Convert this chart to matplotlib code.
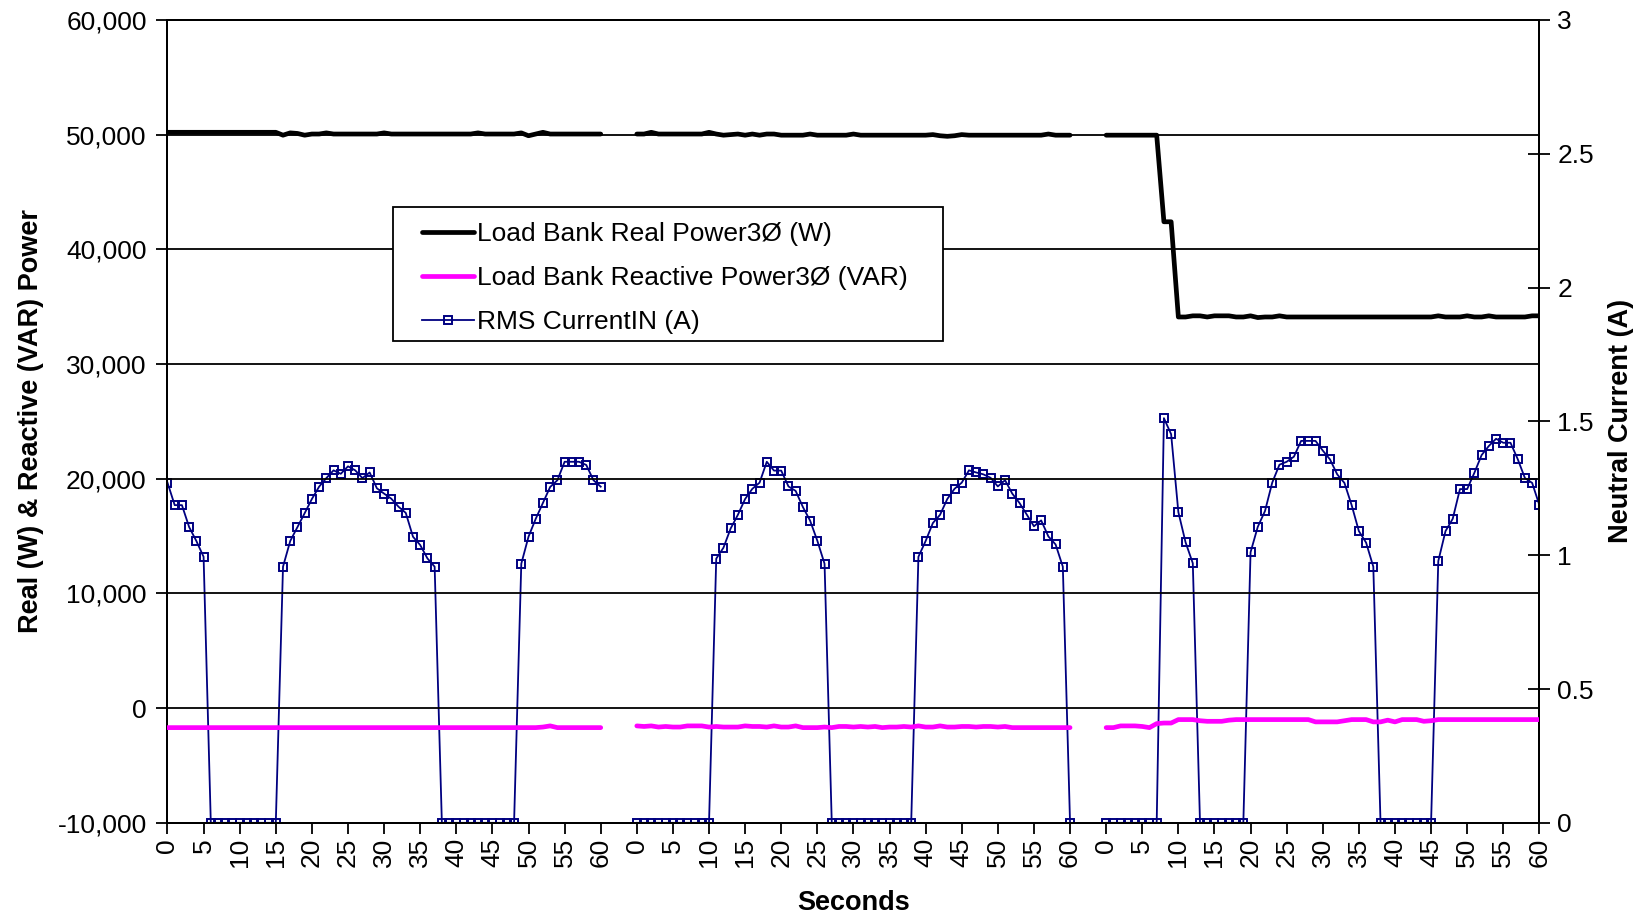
import numpy as np
import matplotlib
matplotlib.use("Agg")
import matplotlib.pyplot as plt
from matplotlib.patches import Rectangle

plt.rcParams['font.family'] = ['Liberation Sans', 'DejaVu Sans']

# ---------------- data ----------------
seconds = list(range(0, 61))
tick_labels = [str(s) for s in range(0, 61, 5)]

# Load Bank Real Power 3-phase (W), three 60-second runs
real_power_1 = [50200] * 16 + [49950, 50150, 50100, 49950, 50050, 50050, 50150, 50050, 50050, 50050,
                               50050, 50050, 50050, 50050, 50150, 50050, 50050, 50050, 50050, 50050,
                               50050, 50050, 50050, 50050, 50050, 50050, 50050, 50150, 50050, 50050,
                               50050, 50050, 50050, 50150, 49900, 50050, 50200, 50050, 50050, 50050,
                               50050, 50050, 50050, 50050, 50050]
real_power_2 = [50050, 50050, 50200, 50050, 50050, 50050, 50050, 50050, 50050, 50050,
                50200, 50050, 49950, 50000, 50050, 49950, 50050, 49950, 50050, 50050,
                49950, 49950, 49950, 49950, 50050, 49950, 49950, 49950, 49950, 49950,
                50050, 49950, 49950, 49950, 49950, 49950, 49950, 49950, 49950, 49950,
                49950, 50000, 49900, 49850, 49900, 50000, 49950, 49950, 49950, 49950,
                49950, 49950, 49950, 49950, 49950, 49950, 49950, 50050, 49950, 49950,
                49950]
real_power_3 = [49950, 49950, 49950, 49950, 49950, 49950, 49950, 49950, 42400, 42400,
                34100, 34100, 34200, 34200, 34100, 34200, 34200, 34200, 34100, 34100,
                34200, 34050, 34100, 34100, 34200, 34100, 34100, 34100, 34100, 34100,
                34100, 34100, 34100, 34100, 34100, 34100, 34100, 34100, 34100, 34100,
                34100, 34100, 34100, 34100, 34100, 34100, 34200, 34100, 34100, 34100,
                34200, 34100, 34100, 34200, 34100, 34100, 34100, 34100, 34100, 34200,
                34200]

# Load Bank Reactive Power 3-phase (VAR)
reactive_power_1 = [-1700] * 52 + [-1650, -1550, -1700, -1700, -1700, -1700, -1700, -1700, -1700]
reactive_power_2 = [-1550, -1600, -1550, -1650, -1600, -1650, -1650, -1550, -1550, -1550,
                    -1650, -1600, -1650, -1650, -1650, -1550, -1600, -1600, -1650, -1550,
                    -1650, -1650, -1550, -1700, -1700, -1700, -1650, -1700, -1600, -1600,
                    -1650, -1600, -1650, -1600, -1700, -1650, -1650, -1600, -1650, -1550,
                    -1650, -1650, -1550, -1650, -1650, -1600, -1600, -1650, -1600, -1600,
                    -1650, -1600, -1700, -1700, -1700, -1700, -1700, -1700, -1700, -1700,
                    -1700]
reactive_power_3 = [-1700, -1700, -1550, -1550, -1550, -1600, -1700, -1350, -1300, -1300,
                    -1000, -1000, -1000, -1100, -1150, -1150, -1150, -1050, -1000, -1000,
                    -1000, -1000, -1000, -1000, -1000, -1000, -1000, -1000, -1000, -1200,
                    -1200, -1200, -1200, -1100, -1000, -1000, -1000, -1200, -1200, -1050,
                    -1200, -1000, -1000, -1000, -1150, -1100, -1000, -1000, -1000, -1000,
                    -1000, -1000, -1000, -1000, -1000, -1000, -1000, -1000, -1000, -1000,
                    -1000]

# RMS Neutral Current IN (A)
current_1 = [1.271, 1.187, 1.187, 1.105, 1.053, 0.994] + [0] * 10 + \
            [0.957, 1.053, 1.105, 1.157, 1.210, 1.256, 1.288, 1.317, 1.304, 1.332,
             1.317, 1.288, 1.309, 1.250, 1.230, 1.211, 1.181, 1.158, 1.069, 1.038,
             0.988, 0.957] + [0] * 11 + \
            [0.968, 1.069, 1.136, 1.196, 1.255, 1.280, 1.349, 1.349, 1.349, 1.337,
             1.280, 1.256]
current_2 = [0] * 11 + \
            [0.987, 1.028, 1.100, 1.151, 1.210, 1.248, 1.271, 1.349, 1.316, 1.316,
             1.257, 1.240, 1.180, 1.129, 1.054, 0.968] + [0] * 12 + \
            [0.994, 1.053, 1.120, 1.151, 1.210, 1.248, 1.271, 1.317, 1.309, 1.302,
             1.289, 1.257, 1.280, 1.230, 1.195, 1.152, 1.108, 1.130, 1.070, 1.040,
             0.957] + [0]
current_3 = [0] * 8 + [1.512, 1.452, 1.161, 1.048, 0.970] + [0] * 7 + \
            [1.011, 1.106, 1.165, 1.271, 1.338, 1.349, 1.368, 1.427, 1.427, 1.427,
             1.391, 1.358, 1.302, 1.270, 1.187, 1.090, 1.047, 0.957] + [0] * 8 + \
            [0.978, 1.090, 1.136, 1.247, 1.247, 1.308, 1.374, 1.408, 1.435, 1.420,
             1.420, 1.359, 1.288, 1.270, 1.187]

# ---------------- layout ----------------
GAP = 5  # empty categories between runs
sec = np.array(seconds, dtype=float)
offsets = [0, 60 + GAP, 2 * (60 + GAP)]


def join(*segs):
    xs, ys = [], []
    for i, (off, s) in enumerate(zip(offsets, segs)):
        if i:
            xs.append([np.nan]); ys.append([np.nan])
        xs.append(sec + off); ys.append(np.asarray(s, dtype=float))
    return np.concatenate(xs), np.concatenate(ys)


W, H = 1642, 917
fig = plt.figure(figsize=(W / 100, H / 100), dpi=100)
ax = fig.add_axes([0.102, 0.1027, 0.8355, 0.8756])
ax2 = ax.twinx()

FS = 19

xr, yr = join(real_power_1, real_power_2, real_power_3)
xq, yq = join(reactive_power_1, reactive_power_2, reactive_power_3)
xc, yc = join(current_1, current_2, current_3)

l1, = ax.plot(xr, yr, color='black', lw=3.4, solid_joinstyle='round',
              solid_capstyle='round', label='Load Bank Real Power3Ø (W)', zorder=4)
l2, = ax.plot(xq, yq, color='#FF00FF', lw=3.4, solid_joinstyle='round',
              solid_capstyle='round', label='Load Bank Reactive Power3Ø (VAR)', zorder=4)
l3, = ax2.plot(xc, yc, color='#000080', lw=1.3, marker='s', ms=6.4, mfc='none',
               mec='#000080', mew=1.4, label='RMS CurrentIN (A)', zorder=5)

ax.set_zorder(ax2.get_zorder() + 1)
ax.patch.set_visible(False)

ax.set_ylim(-10000, 60000)
ax.set_yticks(np.arange(-10000, 60001, 10000))
ax.set_yticklabels([f"{v:,}" for v in range(-10000, 60001, 10000)], fontsize=FS)
ax.yaxis.grid(True, color='black', lw=1.3)
ax.set_axisbelow(True)

ax2.set_ylim(0, 3)
ax2.set_yticks(np.arange(0, 3.01, 0.5))
ax2.set_yticklabels(['0', '0.5', '1', '1.5', '2', '2.5', '3'], fontsize=FS)

xticks = [off + s for off in offsets for s in range(0, 61, 5)]
ax.set_xlim(0, offsets[-1] + 60)
ax.set_xticks(xticks)
ax.set_xticklabels(tick_labels * 3, rotation=90, fontsize=FS)

for a in (ax, ax2):
    for sp in a.spines.values():
        sp.set_color('black')
        sp.set_linewidth(1.4)

ax.tick_params(axis='y', direction='out', length=8, width=1.3, pad=7)
ax.tick_params(axis='x', direction='out', length=8, width=1.3, pad=3)
ax2.tick_params(axis='y', direction='inout', length=16, width=1.3, pad=5)

ax.set_xlabel('Seconds', fontsize=FS + 0.5, fontweight='bold', labelpad=16)
ax.set_ylabel('Real (W) & Reactive (VAR) Power', fontsize=FS + 0.5, fontweight='bold', labelpad=10)
ax2.set_ylabel('Neutral Current (A)', fontsize=FS + 0.5, fontweight='bold', labelpad=10)

# legend frame drawn as its own box (figure pixel coords), legend entries inside
box_l, box_t, box_r, box_b = 392.7, 207.0, 942.5, 341.3
frame = Rectangle((box_l / W, 1 - box_b / H), (box_r - box_l) / W, (box_b - box_t) / H,
                  transform=fig.transFigure, facecolor='white', edgecolor='black',
                  linewidth=1.3, zorder=10)
fig.patches.append(frame)

leg = fig.legend(handles=[l1, l2, l3], loc='upper left',
                 bbox_to_anchor=(422 / W, 1 - 222 / H), bbox_transform=fig.transFigure,
                 fontsize=FS, frameon=False, handlelength=1.98,
                 handletextpad=0.12, labelspacing=0.76, borderpad=0, borderaxespad=0)
leg.set_zorder(11)

fig.savefig('out.png', dpi=100)
